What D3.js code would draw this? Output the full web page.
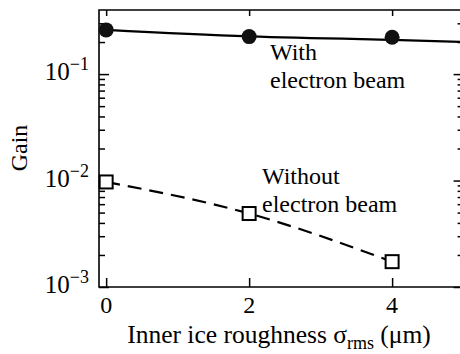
<!DOCTYPE html>
<html>
<head>
<meta charset="utf-8">
<script src="https://cdn.jsdelivr.net/npm/d3@7"></script>
<style>
  body { margin: 0; background: #fff; }
  svg { display: block; }
  svg text { font-family: "Liberation Serif", "Times New Roman", Times, "DejaVu Serif", serif; }
</style>
</head>
<body>
<svg></svg>
<script>
const w = 460;
const h = 354;
const serif = '"Liberation Serif", "Times New Roman", Times, "DejaVu Serif", serif';

// data
const xTicks = [0, 2, 4];
const yMajor = [1e-3, 1e-2, 1e-1];
const yExp = ['\u22123', '\u22122', '\u22121'];
const yMinor = [2e-3, 3e-3, 4e-3, 5e-3, 6e-3, 7e-3, 8e-3, 9e-3,
  2e-2, 3e-2, 4e-2, 5e-2, 6e-2, 7e-2, 8e-2, 9e-2, 0.2, 0.3];

const withX = [0, 2, 4];
const withY = [0.26, 0.225, 0.222];
const withLineX = [0, 2, 4, 5];
const withLineY = [0.26, 0.226, 0.21, 0.2];

const withoutX = [0, 2, 4];
const withoutY = [0.0097, 0.0049, 0.00173];

const svg = d3.select('svg').attr('width', w).attr('height', h);

const x = d3.scaleLinear().domain([-0.1, 5]).range([99, 463.6]);
const y = d3.scaleLog().domain([1e-3, 0.4]).range([287, 10]);

const axisStroke = g => {
  g.select('.domain').remove();
  g.selectAll('.tick line').attr('stroke', '#000').attr('stroke-width', 1.5);
  g.selectAll('.tick text').remove();
};

// left ticks
svg.append('g').attr('transform', `translate(${x(-0.1)},0)`)
  .call(d3.axisLeft(y).tickValues(yMajor).tickSize(-10)).call(axisStroke);
svg.append('g').attr('transform', `translate(${x(-0.1)},0)`)
  .call(d3.axisLeft(y).tickValues(yMinor).tickSize(-6)).call(axisStroke);
// right ticks
svg.append('g').attr('transform', `translate(${x(5)},0)`)
  .call(d3.axisRight(y).tickValues(yMajor).tickSize(-10)).call(axisStroke);
svg.append('g').attr('transform', `translate(${x(5)},0)`)
  .call(d3.axisRight(y).tickValues(yMinor).tickSize(-6)).call(axisStroke);
// bottom / top ticks
svg.append('g').attr('transform', `translate(0,${y(1e-3)})`)
  .call(d3.axisBottom(x).tickValues(xTicks).tickSize(-9)).call(axisStroke);
svg.append('g').attr('transform', `translate(0,${y(0.4)})`)
  .call(d3.axisTop(x).tickValues(xTicks).tickSize(-6)).call(axisStroke);

// frame
svg.append('path')
  .attr('d', `M${x(5)},${y(0.4)}H${x(-0.1)}V${y(1e-3)}H${x(5)}`)
  .attr('fill', 'none')
  .attr('stroke', '#000')
  .attr('stroke-width', 1.6);

// y tick labels
yMajor.forEach((v, i) => {
  const t = svg.append('text')
    .attr('x', 89)
    .attr('y', y(v) + 6)
    .attr('text-anchor', 'end')
    .attr('font-family', serif)
    .style('font-size', '25px');
  t.append('tspan').text('10');
  t.append('tspan').attr('dy', -10).style('font-size', '18px').text(yExp[i]);
});

// x tick labels
svg.selectAll('.xlab')
  .data(xTicks)
  .enter()
  .append('text')
  .attr('class', 'xlab')
  .attr('x', d => x(d))
  .attr('y', 313)
  .attr('text-anchor', 'middle')
  .attr('font-family', serif)
  .style('font-size', '24px')
  .text(d => d);

// axis titles
const xt = svg.append('text')
  .attr('x', 279)
  .attr('y', 343)
  .attr('text-anchor', 'middle')
  .attr('font-family', serif)
  .style('font-size', '25.5px');
xt.append('tspan').text('Inner ice roughness \u03c3');
xt.append('tspan').attr('dy', 6).style('font-size', '18px').text('rms');
xt.append('tspan').attr('dy', -6).text(' (\u03bcm)');

svg.append('text')
  .attr('transform', 'translate(27,148) rotate(-90)')
  .attr('text-anchor', 'middle')
  .attr('font-family', serif)
  .style('font-size', '24px')
  .text('Gain');

// with electron beam
const line = d3.line().x(d => x(d[0])).y(d => y(d[1])).curve(d3.curveNatural);

svg.append('path')
  .datum(withLineX.map((d, i) => [d, withLineY[i]]))
  .attr('d', line)
  .attr('fill', 'none')
  .attr('stroke', '#000')
  .attr('stroke-width', 2.2);

svg.selectAll('.dot')
  .data(withX.map((d, i) => [d, withY[i]]))
  .enter()
  .append('circle')
  .attr('class', 'dot')
  .attr('cx', d => x(d[0]))
  .attr('cy', d => y(d[1]))
  .attr('r', 7.5)
  .attr('fill', '#111');

// without electron beam
svg.append('path')
  .datum(withoutX.map((d, i) => [d, withoutY[i]]))
  .attr('d', line)
  .attr('fill', 'none')
  .attr('stroke', '#000')
  .attr('stroke-width', 2.2)
  .attr('stroke-dasharray', '14,8');

svg.selectAll('.sq')
  .data(withoutX.map((d, i) => [d, withoutY[i]]))
  .enter()
  .append('rect')
  .attr('class', 'sq')
  .attr('x', d => x(d[0]) - 6.5)
  .attr('y', d => y(d[1]) - 6.5)
  .attr('width', 13)
  .attr('height', 13)
  .attr('fill', '#fff')
  .attr('stroke', '#000')
  .attr('stroke-width', 2);

// curve labels
const label = (tx, ty, lines) => {
  lines.forEach((s, i) => {
    svg.append('text')
      .attr('x', tx)
      .attr('y', ty + i * 28)
      .attr('font-family', serif)
      .style('font-size', '24px')
      .text(s);
  });
};
label(270, 60, ['With', 'electron beam']);
label(262, 184, ['Without', 'electron beam']);
</script>
</body>
</html>
